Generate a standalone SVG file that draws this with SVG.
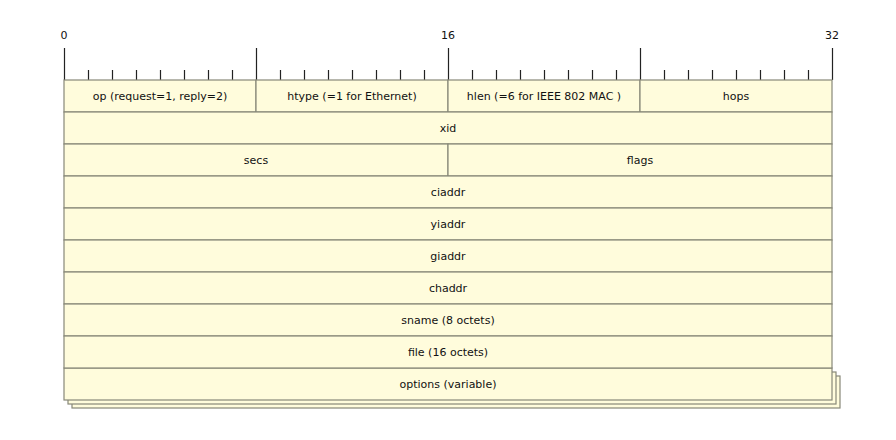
<svg xmlns="http://www.w3.org/2000/svg" width="896" height="440" viewBox="0 0 896 440">
<style>
.f{fill:#fffcdc;stroke:#888878;stroke-width:1.2}
.t{font-family:"DejaVu Sans",Verdana,sans-serif;font-size:11px;fill:#111;text-anchor:middle}
.k{stroke:#222;stroke-width:1.2}
</style>
<rect width="896" height="440" fill="#fff"/>
<g id="ruler">
<text class="t" x="64" y="39">0</text>
<text class="t" x="448" y="39">16</text>
<text class="t" x="832" y="39">32</text>
<path class="k" d="M64.5 48V80M256.5 48V80M448.5 48V80M640.5 48V80M832.5 48V80
M88.5 70V80M112.5 70V80M136.5 70V80M160.5 70V80M184.5 70V80M208.5 70V80M232.5 70V80
M280.5 70V80M304.5 70V80M328.5 70V80M352.5 70V80M376.5 70V80M400.5 70V80M424.5 70V80
M472.5 70V80M496.5 70V80M520.5 70V80M544.5 70V80M568.5 70V80M592.5 70V80M616.5 70V80
M664.5 70V80M688.5 70V80M712.5 70V80M736.5 70V80M760.5 70V80M784.5 70V80M808.5 70V80"/>
</g>
<g id="options">
<rect class="f" x="72" y="376" width="768" height="32"/>
<rect class="f" x="68" y="372" width="768" height="32"/>
<rect class="f" x="64" y="368" width="768" height="32"/>
<text class="t" x="448" y="388">options (variable)</text>
</g>
<g id="op"><rect class="f" x="64" y="80" width="192" height="32"/><text class="t" x="160" y="100">op (request=1, reply=2)</text></g>
<g id="htype"><rect class="f" x="256" y="80" width="192" height="32"/><text class="t" x="352" y="100">htype (=1 for Ethernet)</text></g>
<g id="hlen"><rect class="f" x="448" y="80" width="192" height="32"/><text class="t" x="544" y="100">hlen (=6 for IEEE 802 MAC )</text></g>
<g id="hops"><rect class="f" x="640" y="80" width="192" height="32"/><text class="t" x="736" y="100">hops</text></g>
<g id="xid"><rect class="f" x="64" y="112" width="768" height="32"/><text class="t" x="448" y="132">xid</text></g>
<g id="secs"><rect class="f" x="64" y="144" width="384" height="32"/><text class="t" x="256" y="164">secs</text></g>
<g id="flags"><rect class="f" x="448" y="144" width="384" height="32"/><text class="t" x="640" y="164">flags</text></g>
<g id="ciaddr"><rect class="f" x="64" y="176" width="768" height="32"/><text class="t" x="448" y="196">ciaddr</text></g>
<g id="yiaddr"><rect class="f" x="64" y="208" width="768" height="32"/><text class="t" x="448" y="228">yiaddr</text></g>
<g id="giaddr"><rect class="f" x="64" y="240" width="768" height="32"/><text class="t" x="448" y="260">giaddr</text></g>
<g id="chaddr"><rect class="f" x="64" y="272" width="768" height="32"/><text class="t" x="448" y="292">chaddr</text></g>
<g id="sname"><rect class="f" x="64" y="304" width="768" height="32"/><text class="t" x="448" y="324">sname (8 octets)</text></g>
<g id="file"><rect class="f" x="64" y="336" width="768" height="32"/><text class="t" x="448" y="356">file (16 octets)</text></g>
</svg>
